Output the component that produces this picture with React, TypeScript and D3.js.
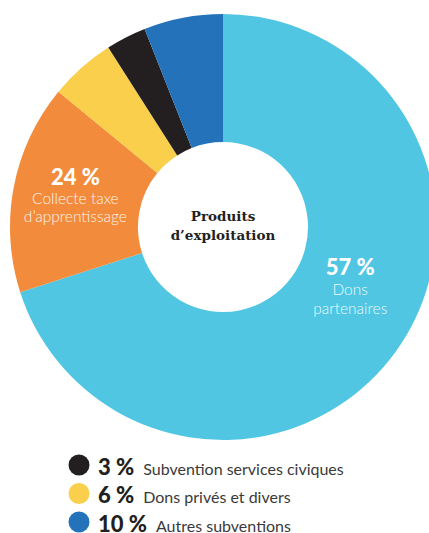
import { arc, pie } from "d3";

const CATEGORIES = [
  "Dons partenaires",
  "Collecte taxe d'apprentissage",
  "Dons privés et divers",
  "Subvention services civiques",
  "Autres subventions",
] as const;

// printed percentages
const PERCENTS = [57, 24, 6, 3, 10];

// share of the circle each slice takes in the drawing (not to scale with the printed numbers)
const SHARES = [70.05, 15.9, 5.0, 3.05, 6.0];

const COLORS = ["#50C6E3", "#F28C3C", "#F9CF4B", "#231F20", "#2473BA"];

// slices written inside the ring, the others go in the legend
const INSIDE = [
  { index: 0, lines: ["Dons", "partenaires"] },
  { index: 1, lines: ["Collecte taxe", "d’apprentissage"] },
];
const LEGEND = [3, 2, 4];

const CENTER_LINES = ["Produits", "d’exploitation"];

const W = 429;
const H = 533;
const CX = 223;
const CY = 227;
const R_OUT = 213;
const R_IN = 85;

const SANS = "Lato, 'Open Sans', sans-serif";

export default function App() {
  const pieGen = pie<number>().sort(null).value((d) => d);
  const arcs = pieGen(SHARES);
  const arcGen = arc<any>().innerRadius(R_IN).outerRadius(R_OUT);

  // label anchors: angle (deg) and radius from centre
  const labelPos: Record<number, { a: number; r: number; gap: number }> = {
    0: { a: 113.8, r: 139, gap: 19.5 },
    1: { a: 283, r: 151.5, gap: 18 },
  };

  return (
    <svg
      width={W}
      height={H}
      style={{ position: "absolute", left: 0, top: 0, display: "block" }}
    >
      <rect width={W} height={H} fill="#fff" />
      <g transform={`translate(${CX},${CY})`}>
        {arcs.map((a, i) => (
          <path key={i} d={arcGen(a) ?? ""} fill={COLORS[i]} />
        ))}

        {INSIDE.map(({ index, lines }) => {
          const p = labelPos[index];
          const rad = (p.a * Math.PI) / 180;
          const x = p.r * Math.sin(rad);
          const y = -p.r * Math.cos(rad);
          return (
            <text
              key={index}
              x={x}
              y={y}
              textAnchor="middle"
              fill="#fff"
              fontFamily={SANS}
            >
              <tspan x={x} dy={-8} fontSize={22} fontWeight={900}>
                {PERCENTS[index]} %
              </tspan>
              {lines.map((l, k) => (
                <tspan
                  key={k}
                  x={x}
                  dy={k === 0 ? 19.5 : p.gap}
                  fontSize={15.5}
                  fontWeight={300}
                  fillOpacity={0.92}
                >
                  {l}
                </tspan>
              ))}
            </text>
          );
        })}

        <text
          textAnchor="middle"
          fill="#231F20"
          fontFamily="'DejaVu Serif', serif"
          fontWeight="bold"
          fontSize={13.5}
        >
          {CENTER_LINES.map((l, k) => (
            <tspan key={k} x={0} y={-6 + k * 19}>
              {l}
            </tspan>
          ))}
        </text>
      </g>

      <g fontFamily={SANS}>
        {LEGEND.map((idx, k) => {
          const cy = 465 + k * 28.5;
          return (
            <g key={idx}>
              <circle cx={79} cy={cy} r={10.5} fill={COLORS[idx]} />
              <text x={98} y={cy + 9.5} fill="#231F20">
                <tspan fontSize={22} fontWeight={900}>
                  {PERCENTS[idx]} %
                </tspan>
                <tspan dx={9} fontSize={16} fill="#3a3a3a">
                  {CATEGORIES[idx]}
                </tspan>
              </text>
            </g>
          );
        })}
      </g>
    </svg>
  );
}
